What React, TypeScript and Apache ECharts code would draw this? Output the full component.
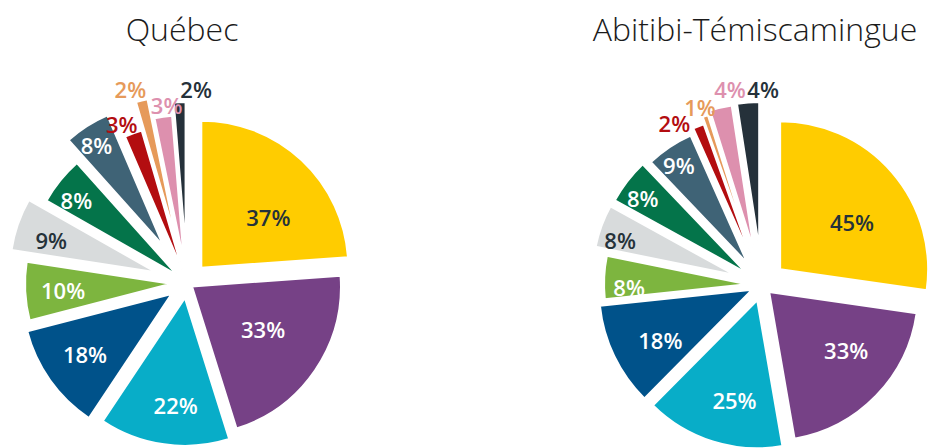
import React, { useEffect, useRef } from 'react';
import * as echarts from 'echarts';

// ---------- data ----------
const categories = [
  'Catégorie 1', 'Catégorie 2', 'Catégorie 3', 'Catégorie 4', 'Catégorie 5', 'Catégorie 6',
  'Catégorie 7', 'Catégorie 8', 'Catégorie 9', 'Catégorie 10', 'Catégorie 11', 'Catégorie 12',
];
const regions = ['Québec', 'Abitibi-Témiscamingue'];
const quebecValues = [37, 33, 22, 18, 10, 9, 8, 8, 3, 2, 3, 2];
const abitibiValues = [45, 33, 25, 18, 8, 8, 8, 9, 2, 1, 4, 4];
const regionValues = [quebecValues, abitibiValues];

// ---------- style ----------
const sliceColors = [
  '#FFCC00', '#764186', '#08ADC8', '#00528A', '#7DB53F', '#D8DBDC',
  '#04744A', '#3F6376', '#B30D10', '#E69A5A', '#DD90AE', '#25313A',
];
const labelTextColors = [
  '#25323A', '#FFFFFF', '#FFFFFF', '#FFFFFF', '#FFFFFF', '#25323A',
  '#FFFFFF', '#FFFFFF', '#B30D10', '#E69A5A', '#DD90AE', '#25313A',
];

const pieLayouts = [
  {
    center: [187, 283],
    titleX: 182,
    explode: [21, 6, 15, 19, 16, 33, 13, 44, 13, 42, 22, 35],
    radius: [147, 149, 148, 149, 146, 146, 150, 142, 146, 146, 146, 146],
    labelDist: [104.7, 89.6, 122.5, 123.9, 124.1, 142.6, 138.3, 164.6, 172.5, 201.9, 179.2, 193.9],
    labelNudge: [[10, 11], [2, -4], [6, 1], [-1, -1], [0, 1], [-1, 4], [-3, 4], [-2, 1], [-7, 3], [-8, 2], [5, -1], [17, 0]],
  },
  {
    center: [762, 285],
    titleX: 755,
    explode: [24, 10, 16, 11, 15, 29, 20, 26, 25, 32, 36, 37],
    radius: [148, 149, 148, 153, 143, 142, 150, 140, 146, 146, 146, 146],
    labelDist: [109.8, 106.2, 118.4, 115, 136, 149, 148, 145.7, 184.6, 188.8, 198.3, 195.7],
    labelNudge: [[7, 9], [8, -9], [8, 2], [2, 5], [3, 8], [-2, 6], [-2, 3], [-2, 1], [-19, 9], [-2, 1], [13, -3], [16, -1]],
  },
];

const FONT = '"Open Sans", "Noto Sans", sans-serif';
const transparentItem = { color: 'rgba(0,0,0,0)', borderWidth: 0 };

function buildOption() {
  const shapeSeries: any[] = [];
  const labelSeries: any[] = [];
  regionValues.forEach((values, r) => {
    const lay = pieLayouts[r];
    categories.forEach((_, i) => {
      const visibleStyle = { color: sliceColors[i], borderColor: '#FFFFFF', borderWidth: 2 };
      shapeSeries.push({
        type: 'pie',
        center: lay.center,
        radius: [0, lay.radius[i]],
        startAngle: 90,
        clockwise: true,
        selectedMode: 'single',
        selectedOffset: lay.explode[i],
        silent: true,
        animation: false,
        emphasis: { disabled: true },
        label: { show: false },
        labelLine: { show: false },
        data: categories.map((name, j) => ({
          name,
          value: values[j],
          selected: j === i,
          itemStyle: j === i ? visibleStyle : transparentItem,
          select: { itemStyle: j === i ? visibleStyle : transparentItem },
        })),
      });
      const L = lay.labelDist[i];
      const nudge = lay.labelNudge[i];
      labelSeries.push({
        type: 'pie',
        center: lay.center,
        radius: [L - 4, L - 2],
        startAngle: 90,
        clockwise: true,
        silent: true,
        animation: false,
        avoidLabelOverlap: false,
        emphasis: { disabled: true },
        labelLine: { show: false },
        label: {
          show: false,
          position: 'inside',
          formatter: '{c}%',
          fontFamily: FONT,
          fontWeight: 600,
          fontSize: 22,
          textBorderWidth: 0,
        },
        labelLayout: (p: any) => (p.dataIndex === i ? { dx: nudge[0], dy: nudge[1] } : {}),
        data: categories.map((name, j) => ({
          name,
          value: values[j],
          itemStyle: transparentItem,
          label: { show: j === i, color: labelTextColors[j] },
        })),
      });
    });
  });

  return {
    animation: false,
    backgroundColor: '#FFFFFF',
    graphic: regions.map((name, r) => ({
      type: 'text',
      x: pieLayouts[r].titleX,
      y: 28,
      silent: true,
      style: {
        text: name,
        fill: '#1B1B1B',
        fontFamily: FONT,
        fontWeight: 300,
        fontSize: 32,
        align: 'center',
        verticalAlign: 'middle',
        textAlign: 'center',
        textVerticalAlign: 'middle',
      },
    })),
    series: [...shapeSeries, ...labelSeries],
  };
}

export default function App() {
  const ref = useRef<HTMLDivElement>(null);
  useEffect(() => {
    if (!ref.current) return;
    const chart = echarts.init(ref.current, undefined, { renderer: 'svg' });
    chart.setOption(buildOption() as any);
    return () => chart.dispose();
  }, []);
  return (
    <div
      ref={ref}
      style={{ position: 'fixed', left: 0, top: 0, width: 933, height: 448, background: '#FFFFFF' }}
    />
  );
}
